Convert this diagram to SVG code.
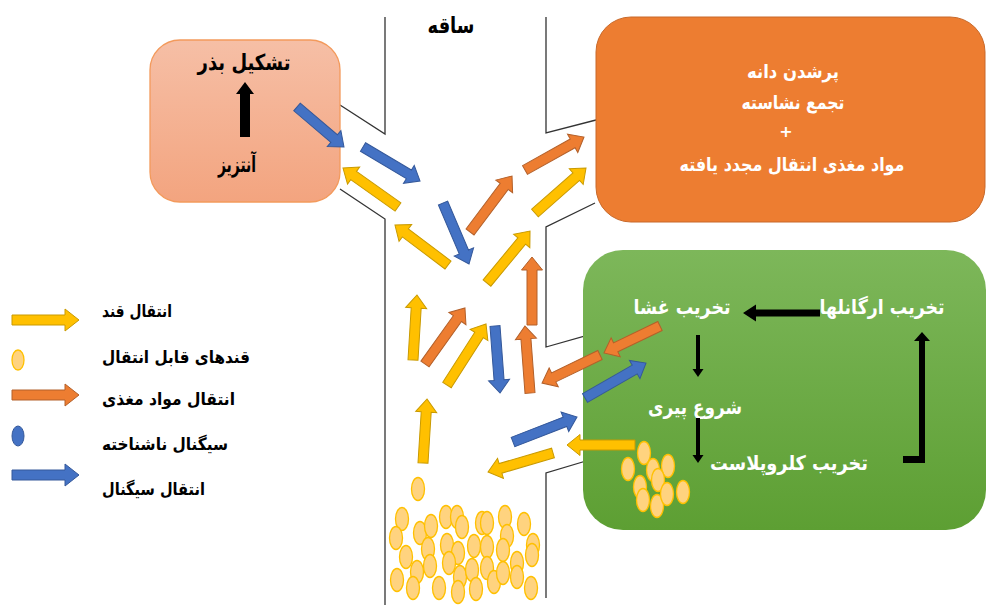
<svg xmlns="http://www.w3.org/2000/svg" width="986" height="605" viewBox="0 0 986 605">
<defs>
<linearGradient id="gPeach" x1="0" y1="0" x2="0" y2="1"><stop offset="0" stop-color="#f6bfa6"/><stop offset="1" stop-color="#f3a47f"/></linearGradient>
<linearGradient id="gGreen" x1="0" y1="0" x2="0" y2="1"><stop offset="0" stop-color="#7db75a"/><stop offset="1" stop-color="#5d9f33"/></linearGradient>
<style>
.y{fill:#ffc000;stroke:#c99a00;stroke-width:1}
.o{fill:#ed7d31;stroke:#b3602a;stroke-width:1}
.b{fill:#4472c4;stroke:#34589a;stroke-width:1}
.k{fill:#000}
.s{fill:#ffd37f;stroke:#ffc000;stroke-width:1.3}
.ln{stroke:#333;stroke-width:1.3;fill:none}
.t{font-family:"DejaVu Sans",sans-serif;font-weight:bold}
.w{fill:#fff}
</style>
</defs>
<rect width="986" height="605" fill="#fff"/>

<g id="stem">
<path class="ln" d="M385,17V134L340,105"/>
<path class="ln" d="M340,189L385,219V605"/>
<path class="ln" d="M546,17V133L596,120"/>
<path class="ln" d="M595,203L546,227V347L595,333"/>
<path class="ln" d="M596,458L546,473V598"/>
<text class="t" x="451" y="33" font-size="22" text-anchor="middle" textLength="47" lengthAdjust="spacingAndGlyphs">ساقه</text>
</g>

<g id="seed-box">
<rect x="150" y="40" width="190" height="162" rx="30" fill="url(#gPeach)" stroke="#f39a5c" stroke-width="1.3"/>
<text class="t" x="244" y="70" font-size="22" text-anchor="middle" textLength="93" lengthAdjust="spacingAndGlyphs">تشکیل بذر</text>
<path class="k" d="M240,137V94H236L245,82L254,94H250V137Z"/>
<text class="t" x="237" y="172" font-size="22" text-anchor="middle" textLength="38" lengthAdjust="spacingAndGlyphs">آنتزیز</text>
</g>

<g id="grain-box">
<rect x="596" y="17" width="389" height="205" rx="35" fill="#ed7d31" stroke="#c8692a" stroke-width="1"/>
<text class="t w" x="793" y="78" font-size="19" text-anchor="middle" textLength="92" lengthAdjust="spacingAndGlyphs">پرشدن دانه</text>
<text class="t w" x="793" y="109" font-size="19" text-anchor="middle" textLength="103" lengthAdjust="spacingAndGlyphs">تجمع نشاسته</text>
<text class="t w" x="786" y="137" font-size="16" text-anchor="middle">+</text>
<text class="t w" x="792" y="171" font-size="19" text-anchor="middle" textLength="225" lengthAdjust="spacingAndGlyphs">مواد مغذی انتقال مجدد یافته</text>
</g>

<g id="leaf-box">
<rect x="583" y="250" width="403" height="280" rx="40" fill="url(#gGreen)"/>
<text class="t w" x="682" y="314" font-size="20" text-anchor="middle" textLength="97" lengthAdjust="spacingAndGlyphs">تخریب غشا</text>
<text class="t w" x="882" y="314" font-size="20" text-anchor="middle" textLength="125" lengthAdjust="spacingAndGlyphs">تخریب ارگانلها</text>
<text class="t w" x="695" y="414" font-size="20" text-anchor="middle" textLength="94" lengthAdjust="spacingAndGlyphs">شروع پیری</text>
<text class="t w" x="789" y="470" font-size="20" text-anchor="middle" textLength="158" lengthAdjust="spacingAndGlyphs">تخریب کلروپلاست</text>
<path class="k" d="M820,309.5H756V304.5L743,313L756,321.5V316.5H820Z"/>
<path class="k" d="M696,335H700V369H703.5L698,377L692.5,369H696Z"/>
<path class="k" d="M696,418H700V455H703.5L698,463L692.5,455H696Z"/>
<path class="k" d="M903,456H919V341H914L922,332L930,341H925V463H903Z"/>
</g>

<g id="sugar-leaf">
<ellipse class="s" cx="628" cy="469" rx="6.5" ry="11.5"/>
<ellipse class="s" cx="644" cy="453" rx="6.5" ry="11.5"/>
<ellipse class="s" cx="653" cy="470" rx="6.5" ry="11.5"/>
<ellipse class="s" cx="668" cy="466" rx="6.5" ry="11.5"/>
<ellipse class="s" cx="658" cy="480" rx="6.5" ry="11.5"/>
<ellipse class="s" cx="640" cy="487" rx="6.5" ry="11.5"/>
<ellipse class="s" cx="643" cy="500" rx="6.5" ry="11.5"/>
<ellipse class="s" cx="657" cy="506" rx="6.5" ry="11.5"/>
<ellipse class="s" cx="667" cy="494" rx="6.5" ry="11.5"/>
<ellipse class="s" cx="683" cy="492" rx="6.5" ry="11.5"/>
</g>

<g id="sugar-stem">
<ellipse class="s" cx="418" cy="489" rx="6.5" ry="11.5"/>
<ellipse class="s" cx="402" cy="519" rx="6.5" ry="11.5"/>
<ellipse class="s" cx="396" cy="538" rx="6.5" ry="11.5"/>
<ellipse class="s" cx="406" cy="557" rx="6.5" ry="11.5"/>
<ellipse class="s" cx="397" cy="580" rx="6.5" ry="11.5"/>
<ellipse class="s" cx="420" cy="533" rx="6.5" ry="11.5"/>
<ellipse class="s" cx="431" cy="526" rx="6.5" ry="11.5"/>
<ellipse class="s" cx="417" cy="572" rx="6.5" ry="11.5"/>
<ellipse class="s" cx="413" cy="588" rx="6.5" ry="11.5"/>
<ellipse class="s" cx="428" cy="549" rx="6.5" ry="11.5"/>
<ellipse class="s" cx="430" cy="566" rx="6.5" ry="11.5"/>
<ellipse class="s" cx="446" cy="517" rx="6.5" ry="11.5"/>
<ellipse class="s" cx="457" cy="517" rx="6.5" ry="11.5"/>
<ellipse class="s" cx="462" cy="527" rx="6.5" ry="11.5"/>
<ellipse class="s" cx="447" cy="545" rx="6.5" ry="11.5"/>
<ellipse class="s" cx="458" cy="553" rx="6.5" ry="11.5"/>
<ellipse class="s" cx="449" cy="563" rx="6.5" ry="11.5"/>
<ellipse class="s" cx="439" cy="588" rx="6.5" ry="11.5"/>
<ellipse class="s" cx="460" cy="577" rx="6.5" ry="11.5"/>
<ellipse class="s" cx="458" cy="592" rx="6.5" ry="11.5"/>
<ellipse class="s" cx="472" cy="570" rx="6.5" ry="11.5"/>
<ellipse class="s" cx="476" cy="589" rx="6.5" ry="11.5"/>
<ellipse class="s" cx="474" cy="546" rx="6.5" ry="11.5"/>
<ellipse class="s" cx="482" cy="523" rx="6.5" ry="11.5"/>
<ellipse class="s" cx="487" cy="523" rx="6.5" ry="11.5"/>
<ellipse class="s" cx="487" cy="547" rx="6.5" ry="11.5"/>
<ellipse class="s" cx="487" cy="568" rx="6.5" ry="11.5"/>
<ellipse class="s" cx="494" cy="582" rx="6.5" ry="11.5"/>
<ellipse class="s" cx="505" cy="517" rx="6.5" ry="11.5"/>
<ellipse class="s" cx="507" cy="536" rx="6.5" ry="11.5"/>
<ellipse class="s" cx="503" cy="550" rx="6.5" ry="11.5"/>
<ellipse class="s" cx="503" cy="573" rx="6.5" ry="11.5"/>
<ellipse class="s" cx="517" cy="563" rx="6.5" ry="11.5"/>
<ellipse class="s" cx="517" cy="577" rx="6.5" ry="11.5"/>
<ellipse class="s" cx="524" cy="524" rx="6.5" ry="11.5"/>
<ellipse class="s" cx="533" cy="545" rx="6.5" ry="11.5"/>
<ellipse class="s" cx="532" cy="555" rx="6.5" ry="11.5"/>
<ellipse class="s" cx="531" cy="588" rx="6.5" ry="11.5"/>
</g>

<g id="connectors">
<path class="b" transform="translate(297,107) rotate(40.4)" d="M0,-5H48.7V-10.5L61.7,0L48.7,10.5V5H0Z"/>
<path class="b" transform="translate(363,147) rotate(30.8)" d="M0,-5H53.4V-10.5L66.4,0L53.4,10.5V5H0Z"/>
<path class="y" transform="translate(398,207) rotate(215.3)" d="M0,-5H54.4V-10.5L67.4,0L54.4,10.5V5H0Z"/>
<path class="y" transform="translate(448,265) rotate(217)" d="M0,-5H53.4V-10.5L66.4,0L53.4,10.5V5H0Z"/>
<path class="b" transform="translate(443,203) rotate(66.9)" d="M0,-5H53.3V-10.5L66.3,0L53.3,10.5V5H0Z"/>
<path class="o" transform="translate(470,232) rotate(-53.1)" d="M0,-5H57V-10.5L70,0L57,10.5V5H0Z"/>
<path class="o" transform="translate(525,170) rotate(-29.2)" d="M0,-5H54.6V-10.5L67.6,0L54.6,10.5V5H0Z"/>
<path class="y" transform="translate(535,213) rotate(-41.4)" d="M0,-5H55V-10.5L68,0L55,10.5V5H0Z"/>
<path class="y" transform="translate(487,283) rotate(-50.4)" d="M0,-5H54.5V-10.5L67.5,0L54.5,10.5V5H0Z"/>
<path class="o" transform="translate(532,325) rotate(-90)" d="M0,-5H55V-10.5L68,0L55,10.5V5H0Z"/>
<path class="y" transform="translate(413,360) rotate(-86.5)" d="M0,-5H52.1V-10.5L65.1,0L52.1,10.5V5H0Z"/>
<path class="o" transform="translate(425,364) rotate(-54.5)" d="M0,-5H55.8V-10.5L68.8,0L55.8,10.5V5H0Z"/>
<path class="y" transform="translate(447,385) rotate(-57.4)" d="M0,-5H59.4V-10.5L72.4,0L59.4,10.5V5H0Z"/>
<path class="b" transform="translate(495,326) rotate(85.7)" d="M0,-5H54.2V-10.5L67.2,0L54.2,10.5V5H0Z"/>
<path class="o" transform="translate(530,393) rotate(-94.3)" d="M0,-5H54.2V-10.5L67.2,0L54.2,10.5V5H0Z"/>
<path class="o" transform="translate(600,355) rotate(154.2)" d="M0,-5H51.4V-10.5L64.4,0L51.4,10.5V5H0Z"/>
<path class="o" transform="translate(660,326) rotate(154.3)" d="M0,-5H49.2V-10.5L62.2,0L49.2,10.5V5H0Z"/>
<path class="b" transform="translate(585,398) rotate(-29.8)" d="M0,-5H57.3V-10.5L70.3,0L57.3,10.5V5H0Z"/>
<path class="b" transform="translate(513,442) rotate(-21.3)" d="M0,-5H55.7V-10.5L68.7,0L55.7,10.5V5H0Z"/>
<path class="y" transform="translate(635,445) rotate(180)" d="M0,-5H55V-10.5L68,0L55,10.5V5H0Z"/>
<path class="y" transform="translate(553,453) rotate(163.7)" d="M0,-5H54.7V-10.5L67.7,0L54.7,10.5V5H0Z"/>
<path class="y" transform="translate(423,463) rotate(-86.4)" d="M0,-5H51.1V-10.5L64.1,0L51.1,10.5V5H0Z"/>
</g>

<g id="legend">
<path class="y" transform="translate(12,320)" d="M0,-5H53V-11L67,0L53,11V5H0Z"/>
<text class="t" x="102" y="317" font-size="17" textLength="70" lengthAdjust="spacingAndGlyphs">انتقال قند</text>
<ellipse class="s" cx="18" cy="360" rx="6" ry="10"/>
<text class="t" x="102" y="363" font-size="17" textLength="148" lengthAdjust="spacingAndGlyphs">قندهای قابل انتقال</text>
<path class="o" transform="translate(12,395)" d="M0,-5H53V-11L67,0L53,11V5H0Z"/>
<text class="t" x="102" y="405" font-size="17" textLength="133" lengthAdjust="spacingAndGlyphs">انتقال مواد مغذی</text>
<ellipse cx="18" cy="436" rx="6" ry="10" fill="#4472c4" stroke="#34589a"/>
<text class="t" x="102" y="450" font-size="17" textLength="126" lengthAdjust="spacingAndGlyphs">سیگنال ناشناخته</text>
<path class="b" transform="translate(12,475)" d="M0,-5H53V-11L67,0L53,11V5H0Z"/>
<text class="t" x="102" y="495" font-size="17" textLength="103" lengthAdjust="spacingAndGlyphs">انتقال سیگنال</text>
</g>
</svg>
